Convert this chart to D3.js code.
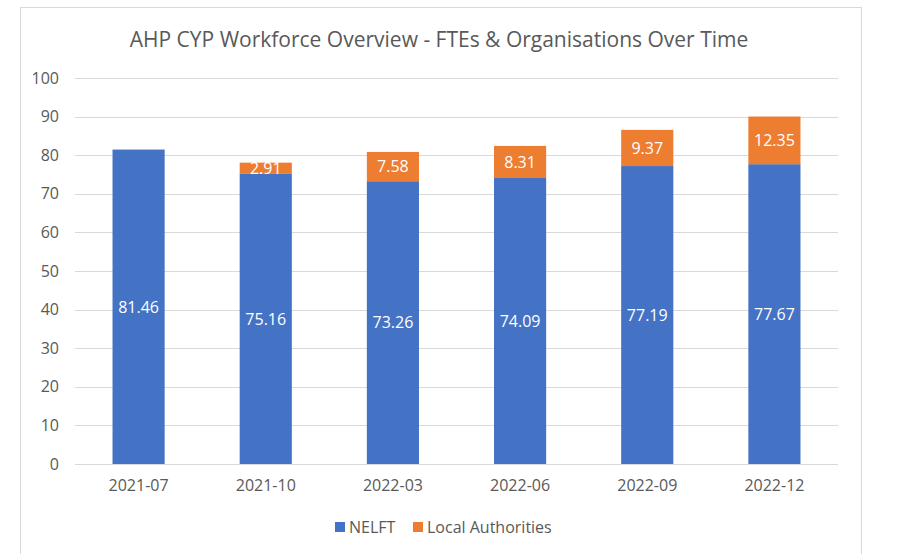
<!DOCTYPE html>
<html>
<head>
<meta charset="utf-8">
<script src="https://cdn.jsdelivr.net/npm/d3@7"></script>
<style>
  body { margin: 0; background: #fff; }
  text { font-family: "Open Sans", "Noto Sans", sans-serif; }
</style>
</head>
<body>
<div id="chart"></div>
<script>
const categories = ["2021-07", "2021-10", "2022-03", "2022-06", "2022-09", "2022-12"];
const nelft = [81.46, 75.16, 73.26, 74.09, 77.19, 77.67];
const localAuth = [0, 2.91, 7.58, 8.31, 9.37, 12.35];
const seriesNames = ["NELFT", "Local Authorities"];
const yTicks = [0, 10, 20, 30, 40, 50, 60, 70, 80, 90, 100];

const WIDTH = 897;
const HEIGHT = 554;
const PLOT = { left: 75, right: 838, top: 78, bottom: 464 };
const COLORS = ["#4472C4", "#ED7D31"];
const TEXT_COLOR = "#595959";

const svg = d3.select("#chart")
  .append("svg")
  .attr("width", WIDTH)
  .attr("height", HEIGHT);

// chart frame
svg.append("rect")
  .attr("x", 20.5)
  .attr("y", 7.5)
  .attr("width", 841)
  .attr("height", 560)
  .attr("fill", "#fff")
  .attr("stroke", "#d9d9d9");

const xScale = d3.scaleBand()
  .domain(categories)
  .range([PLOT.left, PLOT.right])
  .paddingInner(0.59)
  .paddingOuter(0.295);

const yScale = d3.scaleLinear()
  .domain([0, 100])
  .range([PLOT.bottom, PLOT.top]);

// gridlines
svg.append("g")
  .selectAll("line")
  .data(yTicks)
  .enter()
  .append("line")
  .attr("x1", PLOT.left)
  .attr("x2", PLOT.right)
  .attr("y1", (d) => Math.round(yScale(d)) + 0.5)
  .attr("y2", (d) => Math.round(yScale(d)) + 0.5)
  .attr("stroke", "#d9d9d9")
  .attr("stroke-width", 1);

// y axis labels
const yAxis = svg.append("g")
  .attr("transform", "translate(" + (PLOT.left - 16) + ",0)")
  .call(d3.axisLeft(yScale).tickValues(yTicks).tickSize(0).tickPadding(0));
yAxis.select(".domain").remove();
yAxis.selectAll("text")
  .attr("fill", TEXT_COLOR)
  .attr("font-size", "16px");

// x axis labels
const xAxis = svg.append("g")
  .attr("transform", "translate(0," + PLOT.bottom + ")")
  .call(d3.axisBottom(xScale).tickSize(0).tickPadding(16));
xAxis.select(".domain").remove();
xAxis.selectAll("text")
  .attr("fill", TEXT_COLOR)
  .attr("font-size", "16px");

// stacked data
const rows = categories.map((c, i) => ({ cat: c, NELFT: nelft[i], "Local Authorities": localAuth[i] }));
const stacked = d3.stack().keys(seriesNames)(rows);

const layers = svg.append("g")
  .selectAll("g")
  .data(stacked)
  .enter()
  .append("g")
  .attr("fill", (d, i) => COLORS[i]);

layers.selectAll("rect")
  .data((d) => d)
  .enter()
  .append("rect")
  .attr("x", (d) => xScale(d.data.cat))
  .attr("y", (d) => yScale(d[1]))
  .attr("width", xScale.bandwidth())
  .attr("height", (d) => yScale(d[0]) - yScale(d[1]));

// data labels
layers.selectAll("text")
  .data((d) => d.filter((p) => p[1] - p[0] > 0))
  .enter()
  .append("text")
  .attr("x", (d) => xScale(d.data.cat) + xScale.bandwidth() / 2)
  .attr("y", (d) => (yScale(d[0]) + yScale(d[1])) / 2)
  .attr("dy", "0.36em")
  .attr("text-anchor", "middle")
  .attr("fill", "#fff")
  .attr("font-size", "16px")
  .text((d) => d3.format(".2f")(d[1] - d[0]));

// title
svg.append("text")
  .attr("x", 439)
  .attr("y", 47)
  .attr("text-anchor", "middle")
  .attr("fill", TEXT_COLOR)
  .attr("font-size", "21px")
  .text("AHP CYP Workforce Overview - FTEs & Organisations Over Time");

// legend
const legendX = [335, 413];
const legend = svg.append("g")
  .selectAll("g")
  .data(seriesNames)
  .enter()
  .append("g")
  .attr("transform", (d, i) => "translate(" + legendX[i] + ",522)");
legend.append("rect")
  .attr("width", 10)
  .attr("height", 10)
  .attr("fill", (d, i) => COLORS[i]);
legend.append("text")
  .attr("x", 14)
  .attr("y", 5)
  .attr("dy", "0.36em")
  .attr("fill", TEXT_COLOR)
  .attr("font-size", "16px")
  .text((d) => d);
</script>
</body>
</html>
